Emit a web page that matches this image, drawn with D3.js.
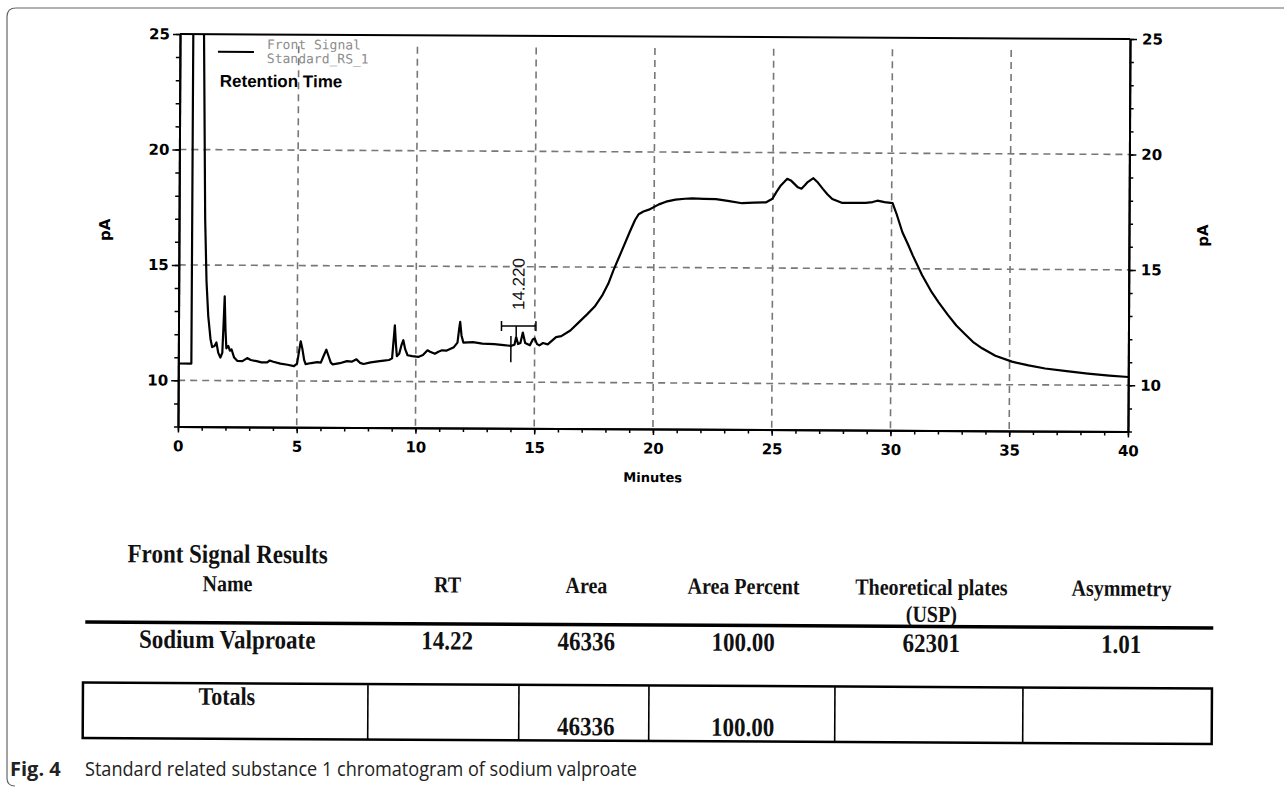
<!DOCTYPE html>
<html lang="en">
<head>
<meta charset="UTF-8">
<title>Standard related substance 1 chromatogram of sodium valproate</title>
<script src="https://d3js.org/d3.v7.min.js"></script>
<style>
    body { margin: 0; background: #fff; }
    svg { display: block; }
    .tick-label { font-family: "DejaVu Sans", Arial, sans-serif; font-weight: bold; font-size: 15px; }
    .grid line { stroke: #777; stroke-width: 1.6px; stroke-dasharray: 7,5; }
    .tbl { font-family: "Liberation Serif", "Times New Roman", serif; font-weight: bold; fill: #111; }
</style>
</head>
<body>
<svg id="fig" width="1284" height="789"></svg>
<script>
// trace: retention time (min) and signal (pA)
var retention = [0, 0.55, 0.56, 1.0, 1.1, 1.17, 1.25, 1.35, 1.42, 1.52, 1.6, 1.68, 1.77, 1.85, 1.9, 1.94, 1.98, 2.02, 2.1, 2.17,
    2.24, 2.35, 2.48, 2.7, 2.9, 3.05, 3.3, 3.5, 3.74, 3.85, 4.0, 4.3, 4.6, 4.87, 5.0, 5.1, 5.15, 5.22, 5.3, 5.36,
    5.6, 5.85, 6.0, 6.12, 6.23, 6.32, 6.42, 6.5, 6.8, 7.1, 7.3, 7.5, 7.65, 7.8, 8.1, 8.4, 8.65, 8.87, 9.0, 9.07,
    9.11, 9.16, 9.2, 9.3, 9.4, 9.47, 9.55, 9.65, 9.85, 10.1, 10.3, 10.49, 10.6, 10.8, 10.95, 11.1, 11.3, 11.6, 11.75, 11.82,
    11.86, 11.92, 12.0, 12.4, 12.8, 13.3, 13.7, 14.0, 14.15, 14.22, 14.3, 14.4, 14.5, 14.6, 14.8, 14.92, 15.0, 15.1, 15.2, 15.35,
    15.55, 15.9, 16.12, 16.5, 16.82, 17.2, 17.52, 17.85, 18.09, 18.3, 18.65, 19.0, 19.2, 19.35, 19.55, 19.78, 20.2, 20.5, 20.9, 21.3,
    21.6, 22.1, 22.6, 23.1, 23.7, 24.2, 24.7, 24.98, 25.15, 25.33, 25.6, 25.75, 25.9, 26.05, 26.2, 26.35, 26.46, 26.7, 26.9, 27.1,
    27.3, 27.5, 27.9, 28.4, 28.9, 29.2, 29.4, 29.7, 30.04, 30.2, 30.46, 30.7, 30.9, 31.3, 31.7, 32.0, 32.4, 32.75, 33.1, 33.45,
    33.84, 34.4, 35.1, 35.8, 36.5, 37.4, 38.3, 39.2, 40];
var signal = [10.73, 10.73, 26, 26, 17, 14.3, 12.8, 11.8, 11.45, 11.5, 11.65, 11.2, 11.0, 11.2, 12.5, 13.65, 12.2, 11.4, 11.5, 11.3,
    11.35, 11.0, 10.86, 10.85, 10.98, 10.9, 10.85, 10.8, 10.8, 10.88, 10.83, 10.75, 10.7, 10.64, 10.75, 11.4, 11.72, 11.4, 10.9, 10.73,
    10.78, 10.82, 10.8, 11.1, 11.36, 11.1, 10.8, 10.73, 10.78, 10.87, 10.85, 10.95, 10.8, 10.75, 10.82, 10.87, 10.9, 10.93, 11.0, 11.9,
    12.43, 11.6, 11.1, 11.2, 11.6, 11.79, 11.4, 11.14, 11.1, 11.07, 11.15, 11.36, 11.3, 11.21, 11.3, 11.36, 11.35, 11.5, 11.7, 12.3,
    12.6, 12.0, 11.7, 11.72, 11.66, 11.64, 11.6, 11.57, 11.62, 11.95, 11.65, 11.7, 12.15, 11.7, 11.6, 11.85, 11.9, 11.65, 11.6, 11.7,
    11.64, 11.96, 12.0, 12.25, 12.57, 12.95, 13.29, 13.8, 14.29, 14.86, 15.72, 16.58, 17.05, 17.3, 17.42, 17.5, 17.73, 17.85, 17.94, 17.98,
    18.0, 17.98, 17.97, 17.9, 17.8, 17.83, 17.84, 18.0, 18.3, 18.58, 18.87, 18.8, 18.65, 18.5, 18.44, 18.6, 18.73, 18.9, 18.7, 18.44,
    18.2, 18.0, 17.84, 17.84, 17.84, 17.88, 17.94, 17.88, 17.84, 17.4, 16.58, 16.05, 15.58, 14.72, 14.0, 13.55, 13.0, 12.55, 12.2, 11.85,
    11.57, 11.25, 11.0, 10.84, 10.71, 10.6, 10.5, 10.42, 10.36];

var xTicks = [0, 5, 10, 15, 20, 25, 30, 35, 40];
var yTicks = [10, 15, 20, 25];
var xGrid = [5, 10, 15, 20, 25, 30, 35];
var yGrid = [10, 15, 20];

// integration marks around the 14.22 min peak
var peakRT = 14.22;
var peakLabel = "14.220";
var peakTop = 12.0;
var bracketEnds = [13.6, 15.05];
var bracketLevel = 12.43;
var baselineMark = [14.0, 12.0, 10.86];   // time, top, bottom

var legendLines = ["Front Signal", "Standard_RS_1"];

// results table
var tableTitle = "Front Signal Results";
var headers = ["Name", "RT", "Area", "Area Percent", "Theoretical plates", "Asymmetry"];
var results = ["Sodium Valproate", "14.22", "46336", "100.00", "62301", "1.01"];
var totals = ["Totals", "", "46336", "100.00", "", ""];

var svg = d3.select("#fig");

var x = d3.scaleLinear().domain([0, 40]).range([179, 1129]);
var y = d3.scaleLinear().domain([8, 25]).range([429, 36.5]);

// the scan is tilted a little clockwise
var chart = svg.append("g").attr("transform", "rotate(0.3,650,230)");

chart.append("clipPath").attr("id", "plotClip")
    .append("rect")
    .attr("x", x(0)).attr("y", y(25))
    .attr("width", x(40) - x(0)).attr("height", y(8) - y(25));

// dashed grid
chart.append("g").attr("class", "grid")
    .selectAll("line").data(xGrid).enter().append("line")
    .attr("x1", d => x(d)).attr("x2", d => x(d))
    .attr("y1", y(24.5)).attr("y2", y(8));
chart.append("g").attr("class", "grid")
    .selectAll("line").data(yGrid).enter().append("line")
    .attr("x1", x(0)).attr("x2", x(40))
    .attr("y1", d => y(d)).attr("y2", d => y(d));

function styleAxis(g) {
    g.select(".domain").attr("stroke", "#000").attr("stroke-width", 2);
    g.selectAll(".tick line").attr("stroke", "#000").attr("stroke-width", 1.5);
    g.selectAll(".tick text").attr("class", "tick-label").attr("fill", "#000");
}

// minor ticks first, then major ticks with labels
chart.append("g").attr("transform", "translate(0," + y(8) + ")")
    .call(d3.axisBottom(x).tickValues(d3.range(0, 41, 1)).tickSize(4).tickSizeOuter(0).tickFormat(""))
    .call(styleAxis);
chart.append("g").attr("transform", "translate(0," + y(8) + ")")
    .call(d3.axisBottom(x).tickValues(xTicks).tickSize(6).tickSizeOuter(0).tickPadding(8).tickFormat(d3.format("d")))
    .call(styleAxis);

chart.append("g").attr("transform", "translate(" + x(0) + ",0)")
    .call(d3.axisLeft(y).tickValues(d3.range(8, 26, 1)).tickSize(4).tickSizeOuter(0).tickFormat(""))
    .call(styleAxis);
chart.append("g").attr("transform", "translate(" + x(0) + ",0)")
    .call(d3.axisLeft(y).tickValues(yTicks).tickSize(7).tickSizeOuter(0).tickPadding(3).tickFormat(d3.format("d")))
    .call(styleAxis);

chart.append("g").attr("transform", "translate(" + x(40) + ",0)")
    .call(d3.axisRight(y).tickValues(d3.range(8, 26, 1)).tickSize(4).tickSizeOuter(0).tickFormat(""))
    .call(styleAxis);
chart.append("g").attr("transform", "translate(" + x(40) + ",0)")
    .call(d3.axisRight(y).tickValues(yTicks).tickSize(7).tickSizeOuter(0).tickPadding(5).tickFormat(d3.format("d")))
    .call(styleAxis);

// top frame line
chart.append("line")
    .attr("x1", x(0)).attr("x2", x(40)).attr("y1", y(25)).attr("y2", y(25))
    .attr("stroke", "#000").attr("stroke-width", 2);

// axis titles
chart.append("text")
    .attr("transform", "translate(110," + ((y(25) + y(8)) / 2) + ") rotate(-90)")
    .attr("class", "tick-label").attr("text-anchor", "middle").text("pA");
chart.append("text")
    .attr("transform", "translate(1208," + ((y(25) + y(8)) / 2) + ") rotate(-90)")
    .attr("class", "tick-label").attr("text-anchor", "middle").text("pA");
chart.append("text")
    .attr("x", (x(0) + x(40)) / 2).attr("y", 482)
    .attr("class", "tick-label").style("font-size", "13px")
    .attr("text-anchor", "middle").text("Minutes");

// the chromatogram
var line = d3.line()
    .x(function(d, i) { return x(retention[i]); })
    .y(function(d) { return y(d); });

chart.append("path")
    .datum(signal)
    .attr("clip-path", "url(#plotClip)")
    .attr("fill", "none")
    .attr("stroke", "#000")
    .attr("stroke-width", 2.2)
    .attr("stroke-linejoin", "round")
    .attr("d", line);

// peak integration marks
var marks = chart.append("g").attr("stroke", "#000").attr("stroke-width", 1.5);
marks.append("line")
    .attr("x1", x(bracketEnds[0])).attr("x2", x(bracketEnds[1]))
    .attr("y1", y(bracketLevel)).attr("y2", y(bracketLevel));
marks.selectAll(".cap").data(bracketEnds).enter().append("line")
    .attr("x1", d => x(d)).attr("x2", d => x(d))
    .attr("y1", y(bracketLevel) - 5).attr("y2", y(bracketLevel) + 5);
marks.append("line")
    .attr("x1", x(peakRT)).attr("x2", x(peakRT))
    .attr("y1", y(bracketLevel)).attr("y2", y(peakTop));
marks.append("line")
    .attr("x1", x(baselineMark[0])).attr("x2", x(baselineMark[0]))
    .attr("y1", y(baselineMark[1])).attr("y2", y(baselineMark[2]));

chart.append("text")
    .attr("transform", "translate(" + (x(peakRT) + 8) + "," + (y(bracketLevel) - 16) + ") rotate(-90)")
    .attr("font-family", "Liberation Sans, Arial, sans-serif")
    .attr("font-size", "17px")
    .attr("fill", "#111")
    .text(peakLabel);

// legend
chart.append("line")
    .attr("x1", 217).attr("x2", 253).attr("y1", 54).attr("y2", 54)
    .attr("stroke", "#000").attr("stroke-width", 2);
chart.selectAll(".legend-text").data(legendLines).enter().append("text")
    .attr("x", 266)
    .attr("y", (d, i) => 51 + i * 14)
    .attr("font-family", "DejaVu Sans Mono, monospace")
    .attr("font-size", "13px")
    .attr("fill", "#8c8c8c")
    .text(d => d);
chart.append("text")
    .attr("x", 219).attr("y", 89)
    .attr("font-family", "Liberation Sans, Arial, sans-serif")
    .attr("font-weight", "bold")
    .attr("font-size", "17px")
    .text("Retention Time");

// results table
var colCenters = [227, 447, 586, 743, 931, 1121];
var colEdges = [83, 368, 519, 649, 835, 1023, 1212];

var table = svg.append("g").attr("transform", "rotate(0.3,650,680)");

function tableText(cx, base, size, txt) {
    table.append("text")
        .attr("class", "tbl")
        .attr("transform", "translate(" + cx + "," + base + ") scale(1,1.15)")
        .attr("text-anchor", "middle")
        .attr("font-size", size + "px")
        .text(txt);
}

tableText(colCenters[0], 565, 23, tableTitle);
headers.forEach(function(h, i) { tableText(colCenters[i], 593.5, 20, h); });
tableText(colCenters[4], 620.5, 20, "(USP)");

table.append("line")
    .attr("x1", 85).attr("x2", 1213).attr("y1", 625).attr("y2", 625)
    .attr("stroke", "#000").attr("stroke-width", 3.5);

results.forEach(function(r, i) { tableText(colCenters[i], 650.5, 23, r); });

table.append("rect")
    .attr("x", colEdges[0]).attr("y", 685.5)
    .attr("width", colEdges[6] - colEdges[0]).attr("height", 55.5)
    .attr("fill", "none").attr("stroke", "#000").attr("stroke-width", 2.5);
table.selectAll(".divider").data(colEdges.slice(1, 6)).enter().append("line")
    .attr("x1", d => d).attr("x2", d => d)
    .attr("y1", 685.5).attr("y2", 741)
    .attr("stroke", "#000").attr("stroke-width", 1.6);

totals.forEach(function(t, i) {
    if (t) tableText(colCenters[i], i === 0 ? 707 : 735.5, i === 0 ? 22 : 23, t);
});

// caption and page frame
svg.append("text")
    .attr("x", 10).attr("y", 776)
    .attr("font-family", "Open Sans, Noto Sans, sans-serif")
    .attr("font-weight", "bold")
    .attr("font-size", "20px")
    .attr("fill", "#222")
    .text("Fig. 4");
svg.append("text")
    .attr("x", 85).attr("y", 776)
    .attr("font-family", "Open Sans, Noto Sans, sans-serif")
    .attr("font-size", "20px")
    .attr("fill", "#222")
    .attr("textLength", 552)
    .attr("lengthAdjust", "spacingAndGlyphs")
    .text("Standard related substance 1 chromatogram of sodium valproate");

svg.append("path")
    .attr("d", "M1284,8 H16 Q7,8 7,17 V778 Q7,786 15,786")
    .attr("fill", "none")
    .attr("stroke", "#666")
    .attr("stroke-width", 1.2);
</script>
</body>
</html>
